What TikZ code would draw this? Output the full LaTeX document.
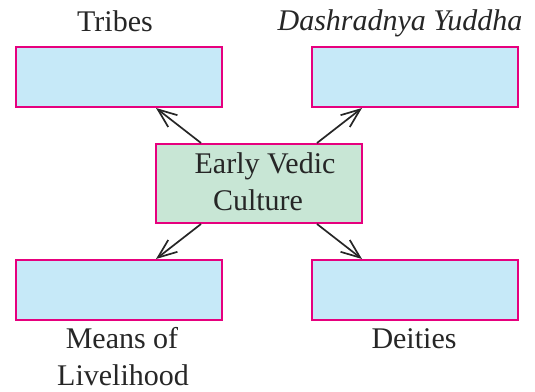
\documentclass[tikz,border=0pt]{standalone}
\usepackage{fontspec}
\setmainfont{Liberation Serif}
\usetikzlibrary{arrows.meta,calc}
\definecolor{pinkline}{HTML}{E6007E}
\definecolor{bluefill}{HTML}{C6E9F8}
\definecolor{greenfill}{HTML}{C8E6D5}
\tikzset{
  answerbox/.style={draw=pinkline,fill=bluefill,line width=2pt,minimum width=206pt,minimum height=60pt,inner sep=0pt,anchor=north west},
  centerbox/.style={draw=pinkline,fill=greenfill,line width=2pt,minimum width=206pt,minimum height=79pt,inner sep=0pt,anchor=north west},
  lbl/.style={font=\fontsize{30}{37}\selectfont,text=black!85,inner sep=0pt,anchor=base},
  arr/.style={line width=1.7pt,black!85,-{Straight Barb[length=19pt,width=15pt,line width=1.7pt]}}
}
\begin{document}
\begin{tikzpicture}[x=1pt,y=-1pt]
\useasboundingbox (0,0) rectangle (535,391);
\node[answerbox] (tl) at (15,46) {};
\node[answerbox] (tr) at (311,46) {};
\node[answerbox] (bl) at (15,259) {};
\node[answerbox] (br) at (311,259) {};
\node[centerbox] (c) at (155,143) {};
\node[lbl] (tribes) at (115,31) {Tribes};
\node[lbl] (dash) at (400,30) {\itshape Dashradnya Yuddha};
\node[lbl] (ev1) at (265,173) {Early Vedic};
\node[lbl] (ev2) at (258,210) {Culture};
\node[lbl] (means) at (122,348) {Means of};
\node[lbl] (live) at (123,385) {Livelihood};
\node[lbl] (deit) at (414,348) {Deities};
\draw[arr] ([xshift=46pt]c.north west) -- ([xshift=-67pt]tl.south east);
\draw[arr] ([xshift=-46pt]c.north east) -- ([xshift=51pt]tr.south west);
\draw[arr] ([xshift=46pt]c.south west) -- ([xshift=-67pt]bl.north east);
\draw[arr] ([xshift=-46pt]c.south east) -- ([xshift=51pt]br.north west);
\end{tikzpicture}
\end{document}
